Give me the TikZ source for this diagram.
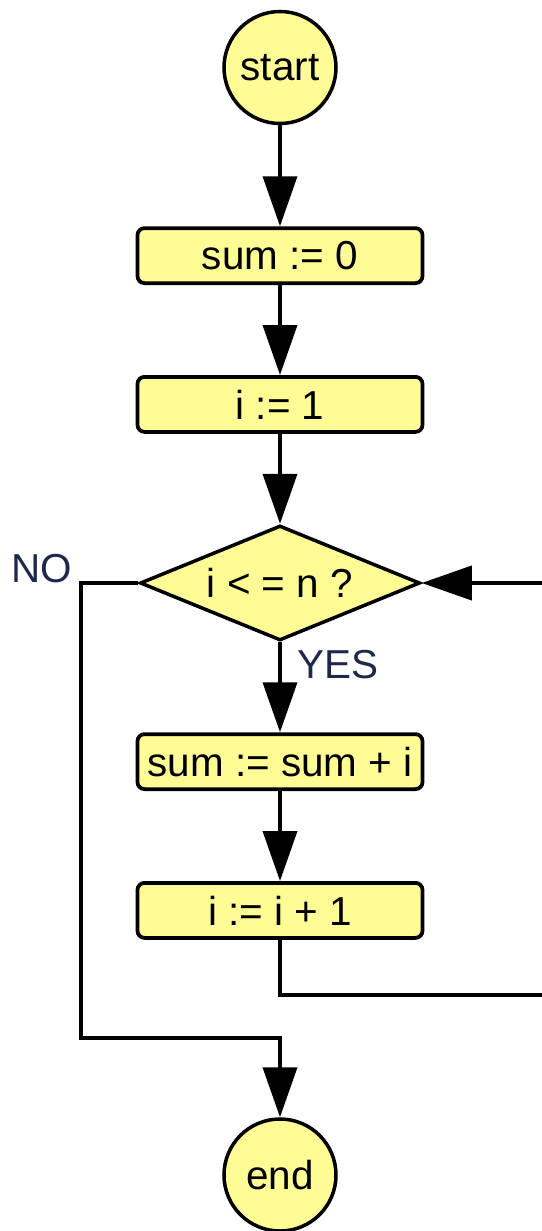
\documentclass[tikz,border=0pt]{standalone}
\usepackage{fontspec}
\setmainfont{Liberation Sans}
\usepackage{tikz}
\usetikzlibrary{arrows.meta,positioning,shapes.geometric,calc}
\definecolor{softyellow}{RGB}{255,252,150}
\definecolor{labelblue}{RGB}{30,40,75}

\begin{document}
\begin{tikzpicture}[
  node distance=1.8cm,
  every node/.style={font=\fontsize{23pt}{27pt}\selectfont},
  box/.style={draw,rounded corners=4pt,fill=softyellow,line width=0.075cm,minimum width=5.7cm,minimum height=1.1cm,inner sep=0pt},
  term/.style={draw,circle,fill=softyellow,line width=0.07cm,minimum size=2.24cm,inner sep=0pt},
  test/.style={draw,diamond,aspect=2.5,fill=softyellow,line width=0.07cm,minimum width=5.6cm,minimum height=2.3cm,inner sep=0pt},
  lbl/.style={text=labelblue,inner sep=0pt},
  arr/.style={-{Triangle[length=1cm,width=0.68cm]},line width=0.075cm,draw=black}
]
\useasboundingbox (-5.6,1.35) rectangle (5.22,-23.27);

\node[term] (start) at (0,0) {start};
\node[box, below=2.02cm of start] (sum0) {sum := 0};
\node[box, below=of sum0] (i1) {i := 1};
\node[test, below=of i1] (cond) {i < = n ?};
\node[box, below=of cond] (body) {sum := sum + i};
\node[box, below=of body] (incr) {i := i + 1};
\node[term, below=3.55cm of incr] (stop) {end};

\node[lbl] (no) at ($(cond.west)+(-1.93cm,0.28cm)$) {NO};
\node[lbl, anchor=west] (yes) at ($(cond.south)+(0.34cm,-0.45cm)$) {YES};

\draw[arr] (start) -- (sum0);
\draw[arr] (sum0) -- (i1);
\draw[arr] (i1) -- (cond);
\draw[arr] (cond) -- (body);
\draw[arr] (body) -- (incr);

% loop back and exit
\draw[arr] (incr.south) |- ($(incr.south)+(5.3cm,-1.1cm)$) |- (cond.east);
\draw[arr] (cond.west) -- ++(-1.15cm,0) |- ($(stop.north)+(0,1.58cm)$) -- (stop.north);
\end{tikzpicture}
\end{document}
